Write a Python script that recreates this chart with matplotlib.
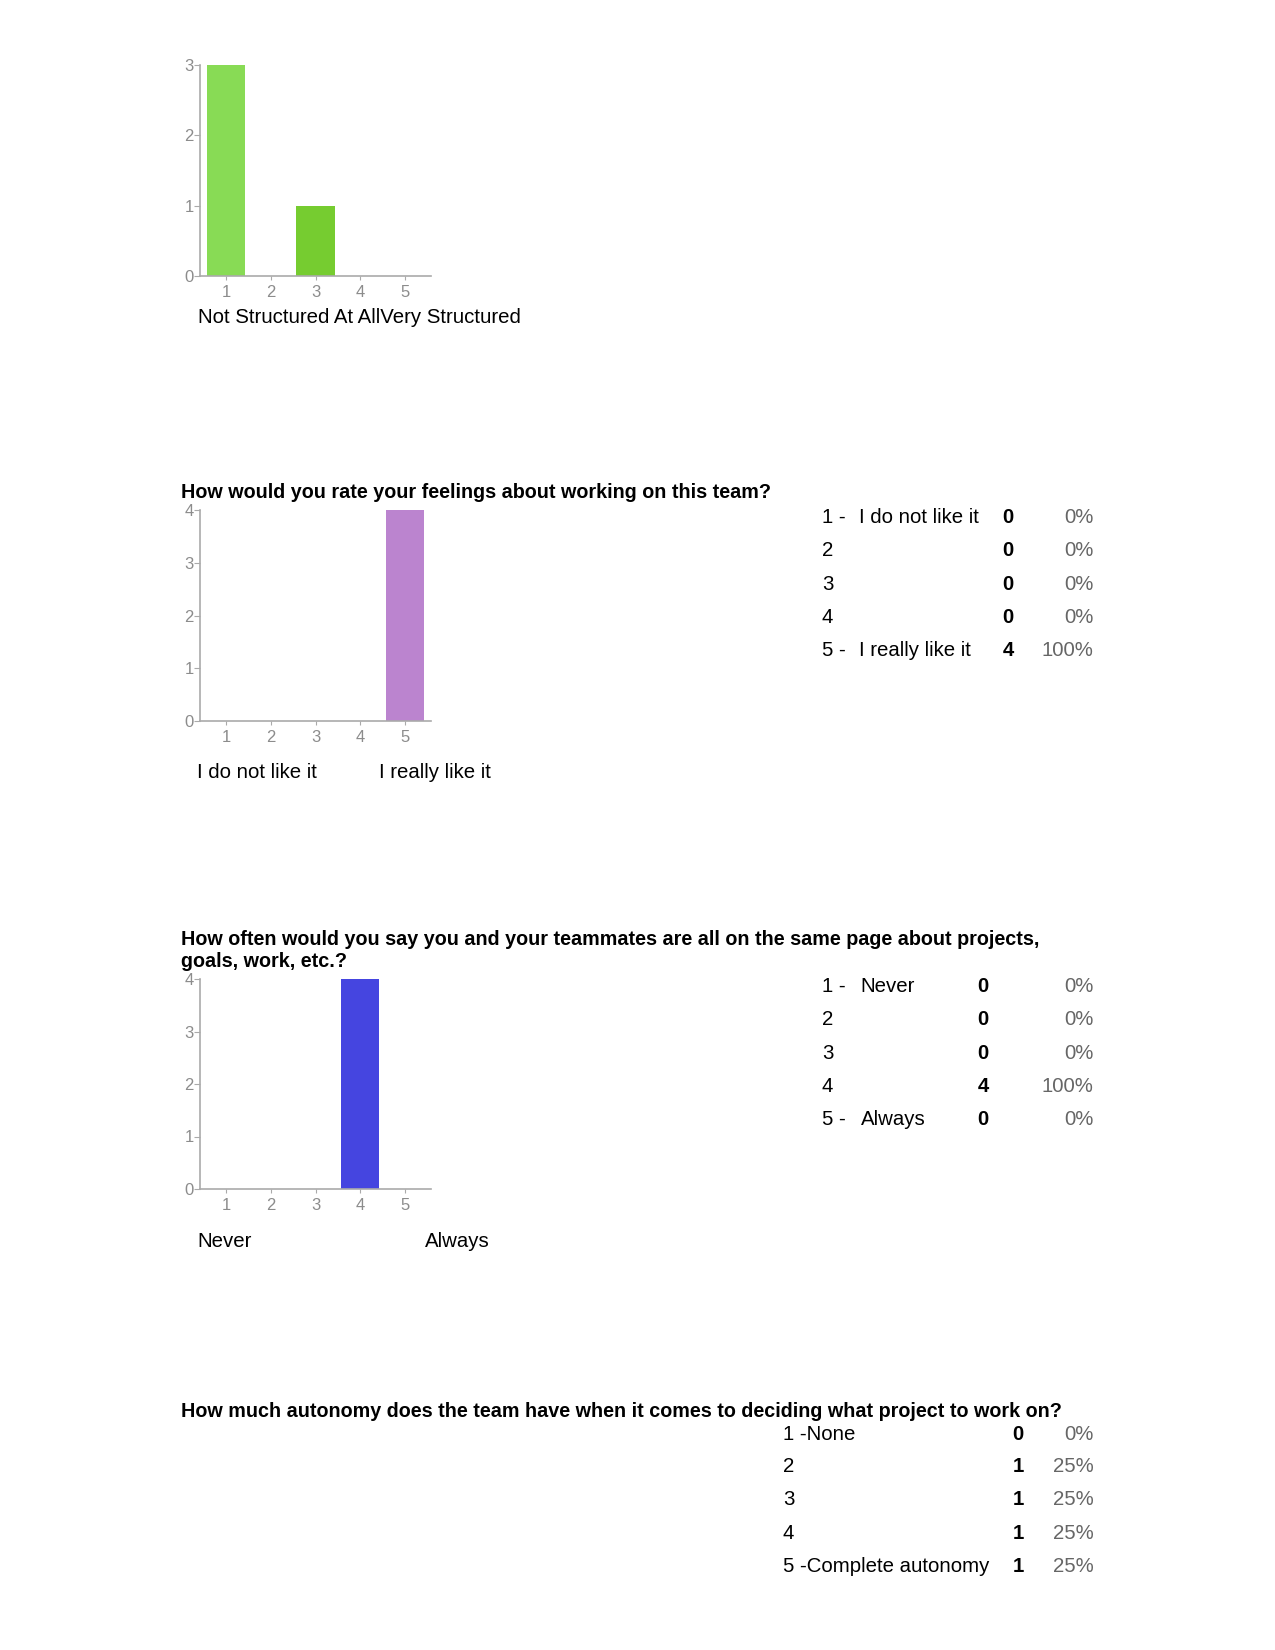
import matplotlib
matplotlib.use("Agg")
from matplotlib import pyplot as plt

plt.rcParams['font.family'] = ['Liberation Sans', 'DejaVu Sans']

W, H = 1275, 1650

# survey answers, scale 1..5
scale = [1, 2, 3, 4, 5]
structured_counts = [3, 0, 1, 0, 0]
structured_colors = ['#88DB55', '#76CC30', '#76CC30', '#76CC30', '#76CC30']
feelings_counts = [0, 0, 0, 0, 4]
same_page_counts = [0, 0, 0, 4, 0]
autonomy_counts = [0, 1, 1, 1, 1]

feelings_title = "How would you rate your feelings about working on this team?"
feelings_nums = ["1 -", "2", "3", "4", "5 -"]
feelings_names = ["I do not like it", "", "", "", "I really like it"]

same_page_title = ["How often would you say you and your teammates are all on the same page about projects,",
                   "goals, work, etc.?"]
same_page_nums = ["1 -", "2", "3", "4", "5 -"]
same_page_names = ["Never", "", "", "", "Always"]

autonomy_title = "How much autonomy does the team have when it comes to deciding what project to work on?"
autonomy_labels = ["1 -None", "2", "3", "4", "5 -Complete autonomy"]

FS = 14.7      # body text
FS_T = 14.2    # bold question titles
GRAY_AX = '#aaaaaa'
GRAY_TICK = '#8c8c8c'
GRAY_PCT = '#666666'

fig = plt.figure(figsize=(W / 100, H / 100), dpi=100)


def fx(x):
    return x / W


def fy(y):
    return 1 - y / H


def bar_chart(top, bottom, counts, colors):
    ax = fig.add_axes([fx(200), fy(bottom), fx(431) - fx(200), (bottom - top) / H])
    ax.bar(scale, counts, width=0.857, color=colors)
    ax.set_xlim(0.41, 5.59)
    ax.set_ylim(0, max(counts))
    ax.set_yticks(range(max(counts) + 1))
    ax.set_xticks(scale)
    for s in ['top', 'right']:
        ax.spines[s].set_visible(False)
    for s in ['left', 'bottom']:
        ax.spines[s].set_color(GRAY_AX)
        ax.spines[s].set_linewidth(1.2)
    ax.tick_params(axis='y', length=4, pad=0.5, color=GRAY_AX, labelcolor=GRAY_TICK, labelsize=12)
    ax.tick_params(axis='x', length=3, pad=3.5, color=GRAY_AX, labelcolor=GRAY_TICK, labelsize=12)
    ax.patch.set_alpha(0)
    return ax


def label(x, y, s, **kw):
    # y is the visual middle of the capitals
    fig.text(fx(x), fy(y + 2.5), s, fontsize=kw.pop('fontsize', FS), va='center', **kw)


def table(x_num, x_name, x_cnt, x_pct, rows_y, nums, names, counts):
    total = sum(counts)
    for i, y in enumerate(rows_y):
        label(x_num, y, nums[i], ha='left')
        if names is not None and names[i]:
            label(x_name, y, names[i], ha='left')
        label(x_cnt, y, str(counts[i]), ha='center', fontweight='bold')
        pct = round(100 * counts[i] / total)
        label(x_pct, y, f"{pct}%", ha='right', color=GRAY_PCT)


# chart 1: structure
bar_chart(65, 276, structured_counts, structured_colors)
label(198, 315, "Not Structured At AllVery Structured")

# chart 2: feelings
fig.text(fx(181), fy(498), feelings_title, fontsize=FS_T, fontweight='bold', va='baseline')
bar_chart(510, 721, feelings_counts, '#BB84CF')
label(197, 770, feelings_names[0])
label(379, 770, feelings_names[4])
table(821.7, 859.3, 1008.3, 1093.3, [515, 548.3, 581.7, 615, 648.3],
      feelings_nums, feelings_names, feelings_counts)

# chart 3: same page
fig.text(fx(181), fy(945), same_page_title[0], fontsize=FS_T, fontweight='bold', va='baseline')
fig.text(fx(181), fy(967), same_page_title[1], fontsize=FS_T, fontweight='bold', va='baseline')
bar_chart(979, 1189, same_page_counts, '#4545E0')
label(197, 1239, same_page_names[0])
label(425, 1239, same_page_names[4])
table(821.7, 860.7, 983.3, 1093.3, [984, 1017.3, 1050.7, 1084, 1117.3],
      same_page_nums, same_page_names, same_page_counts)

# question 4: table only
fig.text(fx(181), fy(1417), autonomy_title, fontsize=FS_T, fontweight='bold', va='baseline')
table(782.7, None, 1018.3, 1093.3, [1431.7, 1464, 1497.3, 1530.7, 1564],
      autonomy_labels, None, autonomy_counts)

fig.savefig("out.png", dpi=100)
